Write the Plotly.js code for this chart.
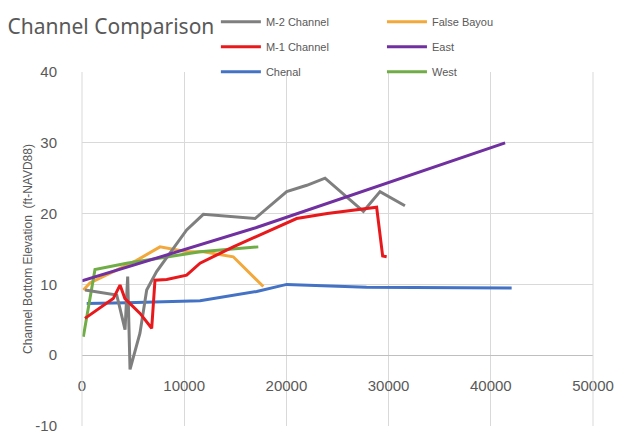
<!DOCTYPE html>
<html><head><meta charset="utf-8">
<script src="https://cdn.plot.ly/plotly-3.0.1.min.js"></script>
<style>html,body{margin:0;padding:0;background:#fff}#chart{width:624px;height:441px}</style>
</head><body><div id="chart"></div>
<script>
const m2X = [300, 3400, 4210, 4470, 4700, 5670, 6330, 7300, 10240, 11870, 16930, 20030, 22000, 23780, 27530, 29160, 31600];
const m2Y = [9.2, 8.5, 3.6, 11.1, -2.0, 3.1, 9.2, 11.8, 17.7, 19.9, 19.3, 23.1, 24.0, 25.0, 20.3, 23.1, 21.1];
const m1X = [290, 2090, 3060, 3720, 4200, 5680, 6820, 7140, 8290, 10240, 11550, 14800, 18070, 21000, 24000, 28830, 29420, 29810];
const m1Y = [5.2, 7.1, 8.0, 9.9, 8.0, 5.9, 3.8, 10.6, 10.7, 11.3, 13.0, 15.3, 17.4, 19.3, 20.0, 20.9, 14.0, 13.9];
const chenalX = [460, 4370, 11550, 17090, 20030, 27850, 42040];
const chenalY = [7.3, 7.4, 7.7, 9.0, 10.0, 9.6, 9.5];
const falseX = [130, 780, 5350, 7630, 10240, 11870, 14800, 17740];
const falseY = [9.2, 10.2, 13.4, 15.3, 14.6, 14.6, 13.9, 9.7];
const eastX = [0, 8000, 17000, 41400];
const eastY = [10.5, 14.0, 18.0, 30.0];
const westX = [130, 1270, 4370, 11550, 17250];
const westY = [2.6, 12.1, 13.0, 14.6, 15.3];

const xTickVals = [0, 10000, 20000, 30000, 40000, 50000];
const xTickText = ['0', '10000', '20000', '30000', '40000', '50000'];
const yTickVals = [-10, 0, 10, 20, 30, 40];
const yTickText = ['-10', '0', '10', '20', '30', '40'];

const names = ['M-2 Channel','M-1 Channel','Chenal','False Bayou','East','West'];
const colors = ['#7f7f7f','#e8191c','#4472c4','#f2a83a','#7030a0','#70ad47'];

function tr(i, x, y, leg, rank) {
  return {x: x, y: y, name: names[i], type: 'scatter', mode: 'lines',
    line: {color: colors[i], width: 3}, legend: leg, legendgroup: names[i], legendrank: rank};
}
const data = [
  tr(2, chenalX, chenalY, 'legend', 3),
  tr(3, falseX, falseY, 'legend2', 1),
  tr(5, westX, westY, 'legend2', 3),
  tr(0, m2X, m2Y, 'legend', 1),
  tr(4, eastX, eastY, 'legend2', 2),
  tr(1, m1X, m1Y, 'legend', 2)
];
const legBase = {
  orientation: 'v', yanchor: 'top', xanchor: 'left', y: 1.183,
  bgcolor: 'rgba(0,0,0,0)', font: {family: 'Liberation Sans, Arial', size: 11, color: '#595959'},
  tracegroupgap: 6, traceorder: 'grouped', itemwidth: 40
};
const layout = {
  width: 624, height: 441,
  margin: {l: 82, r: 31, t: 72, b: 15, autoexpand: false},
  paper_bgcolor: '#fff', plot_bgcolor: '#fff',
  showlegend: true,
  title: {text: 'Channel Comparison', x: 0.012, xref: 'container', xanchor: 'left', y: 0.94, yanchor: 'middle',
    font: {family: 'Noto Sans, Open Sans', size: 21, color: '#595959'}},
  xaxis: {range: [0, 50000], tickvals: xTickVals, ticktext: xTickText, anchor: 'free', position: 0.2,
    showgrid: true, gridcolor: '#d9d9d9', gridwidth: 1, zeroline: false,
    showline: false, ticks: 'outside', ticklen: 17, tickcolor: 'rgba(0,0,0,0)',
    tickfont: {family: 'Liberation Sans, Arial', size: 15, color: '#595959'},
    automargin: false, fixedrange: true},
  yaxis: {range: [-10, 40], tickvals: yTickVals, ticktext: yTickText, showgrid: true, gridcolor: '#d9d9d9', gridwidth: 1,
    zeroline: true, zerolinecolor: '#bfbfbf', zerolinewidth: 1,
    showline: false, ticks: '', ticklabelstandoff: 24,
    tickfont: {family: 'Liberation Sans, Arial', size: 15, color: '#595959'},
    title: {text: 'Channel Bottom Elevation  (ft-NAVD88)', standoff: 0,
      font: {family: 'Liberation Sans, Arial', size: 12, color: '#595959'}},
    automargin: false, fixedrange: true},
  shapes: [
    {type: 'line', xref: 'paper', yref: 'paper', x0: 1, x1: 1, y0: 0, y1: 1, line: {color: '#d9d9d9', width: 1}},
    {type: 'line', xref: 'paper', yref: 'paper', x0: 0, x1: 0, y0: 0, y1: 1, line: {color: '#d9d9d9', width: 1}}
  ],
  legend: Object.assign({}, legBase, {x: 0.262}),
  legend2: Object.assign({}, legBase, {x: 0.587})
};
Plotly.newPlot('chart', data, layout, {displayModeBar: false, staticPlot: true});
</script></body></html>
